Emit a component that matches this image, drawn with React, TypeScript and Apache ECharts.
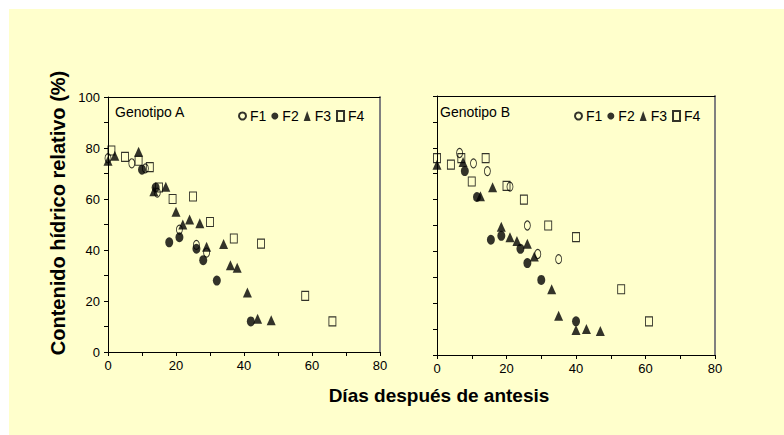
import React, { useEffect, useRef } from "react";
import * as echarts from "echarts";

// Relative water content (%) vs. days after anthesis, two genotypes, four treatments
const seriesNames = ["F1", "F2", "F3", "F4"];
const panelTitles = ["Genotipo A", "Genotipo B"];
const xTitle = "Días después de antesis";
const yTitle = "Contenido hídrico relativo (%)";

// Genotipo A
const aF1 = [[0, 76], [7, 74], [11, 72], [14.5, 62.5], [21, 48], [26, 42], [29, 39]];
const aF2 = [[10, 71.5], [14, 64.5], [18, 43], [21, 45], [26, 40.5], [28, 36], [32, 28], [42, 12]];
const aF3 = [
  [0, 75], [2, 77], [9, 78.5], [13.5, 63], [17, 64.8], [20, 55], [22, 50], [24, 52],
  [27, 50.5], [29, 41.3], [34, 42.4], [36, 34], [38, 33], [41, 23.3], [44, 13], [48, 12.5],
];
const aF4 = [
  [1, 79], [5, 76.5], [9, 75], [12.3, 72.5], [15, 64.5], [19, 60], [25, 61], [30, 51],
  [37, 44.5], [45, 42.5], [58, 22], [66, 12],
];

// Genotipo B
const bF1 = [[6.5, 78], [10.5, 74], [14.5, 71], [21, 65], [26, 50], [29, 39], [35, 37]];
const bF2 = [[8, 71], [11.5, 61], [15.5, 44.5], [18.5, 46], [24, 41], [26, 35.5], [30, 29], [40, 13]];
const bF3 = [
  [0, 73.5], [7.5, 74.5], [12.5, 61.3], [16, 64.8], [18.5, 49.5], [21, 45.5], [23, 44], [26, 43],
  [28, 38], [33, 25.4], [35, 15.2], [40, 9.7], [43, 10], [47, 9.3],
];
const bF4 = [
  [0, 76], [4, 73.5], [7, 76], [10, 67], [14, 76], [20, 65.3], [25, 60], [32, 50],
  [40, 45.5], [53, 25.4], [61, 13],
];

const xRange = { min: 0, max: 80, step: 10, labelStep: 20 };
const yRange = { min: 0, max: 100, step: 10, labelStep: 20 };

const FONT = '"Liberation Sans", Arial, Helvetica, sans-serif';
const BG = "#FFFFCC";

// marker look per treatment
const markerStyles: Record<string, any> = {
  F1: { symbol: "circle", size: [6, 9], itemStyle: { color: "rgba(0,0,0,0)", borderColor: "#000", borderWidth: 1 } },
  F2: { symbol: "circle", size: [8, 10], itemStyle: { color: "#000", borderColor: "#000", borderWidth: 0 } },
  F3: { symbol: "triangle", size: [9, 10], itemStyle: { color: "#000", borderColor: "#000", borderWidth: 0 } },
  F4: { symbol: "rect", size: [7, 9], itemStyle: { color: "rgba(0,0,0,0)", borderColor: "#000", borderWidth: 1 } },
};

function mainX(gridIndex: number, labelMargin: number) {
  return {
    type: "value",
    gridIndex,
    min: xRange.min,
    max: xRange.max,
    interval: xRange.step,
    axisLine: { show: true, onZero: false, lineStyle: { color: "#000", width: 1 } },
    axisTick: { show: true, inside: false, length: 4, lineStyle: { color: "#000" } },
    axisLabel: {
      show: true,
      margin: labelMargin,
      color: "#000",
      fontSize: 13,
      fontFamily: FONT,
      formatter: (v: number) => (v % xRange.labelStep === 0 ? String(v) : ""),
    },
    splitLine: { show: false },
  };
}

function frameX(gridIndex: number) {
  return {
    type: "value",
    gridIndex,
    position: "top",
    min: xRange.min,
    max: xRange.max,
    axisLine: { show: true, onZero: false, lineStyle: { color: "#000", width: 1 } },
    axisTick: { show: false },
    axisLabel: { show: false },
    splitLine: { show: false },
  };
}

function mainY(gridIndex: number, showLabels: boolean) {
  return {
    type: "value",
    gridIndex,
    min: yRange.min,
    max: yRange.max,
    interval: yRange.step,
    axisLine: { show: true, onZero: false, lineStyle: { color: "#000", width: 1 } },
    axisTick: { show: true, inside: false, length: 4, lineStyle: { color: "#000" } },
    axisLabel: {
      show: showLabels,
      margin: 8,
      color: "#000",
      fontSize: 13,
      fontFamily: FONT,
      formatter: (v: number) => (v % yRange.labelStep === 0 ? String(v) : ""),
    },
    splitLine: { show: false },
  };
}

function frameY(gridIndex: number) {
  return {
    type: "value",
    gridIndex,
    position: "right",
    min: yRange.min,
    max: yRange.max,
    axisLine: { show: true, onZero: false, lineStyle: { color: "#808080", width: 2 } },
    axisTick: { show: false },
    axisLabel: { show: false },
    splitLine: { show: false },
  };
}

function scatterSeries(name: string, data: number[][], axisIndex: number) {
  const m = markerStyles[name];
  return {
    type: "scatter",
    name,
    xAxisIndex: axisIndex,
    yAxisIndex: axisIndex,
    data,
    symbol: m.symbol,
    symbolSize: m.size,
    itemStyle: m.itemStyle,
    emphasis: { disabled: true },
  };
}

function legendFor(left: number, top: number) {
  return {
    left,
    top,
    orient: "horizontal",
    itemWidth: 7,
    itemHeight: 10,
    itemGap: 5,
    padding: 0,
    selectedMode: false,
    textStyle: { color: "#000", fontSize: 14, fontFamily: FONT, padding: [0, 0, 0, -1] },
    data: seriesNames.map((n) => ({ name: n, icon: markerStyles[n].symbol })),
  };
}

export default function App() {
  const ref = useRef<HTMLDivElement>(null);

  useEffect(() => {
    if (!ref.current) return;
    const chart = echarts.init(ref.current, undefined, { renderer: "svg" });

    const option = {
      animation: false,
      backgroundColor: "transparent",
      grid: [
        { left: 99, top: 88, width: 272, height: 255, containLabel: false },
        { left: 428, top: 87, width: 278, height: 259, containLabel: false },
      ],
      xAxis: [mainX(0, 7), frameX(0), mainX(1, 7), frameX(1)],
      yAxis: [mainY(0, true), frameY(0), mainY(1, false), frameY(1)],
      legend: [legendFor(229, 100), legendFor(565, 100)],
      series: [
        scatterSeries("F4", aF4, 0),
        scatterSeries("F1", aF1, 0),
        scatterSeries("F3", aF3, 0),
        scatterSeries("F2", aF2, 0),
        scatterSeries("F4", bF4, 2),
        scatterSeries("F1", bF1, 2),
        scatterSeries("F3", bF3, 2),
        scatterSeries("F2", bF2, 2),
      ],
      graphic: [
        {
          type: "text",
          x: 106,
          y: 103,
          style: { text: panelTitles[0], fill: "#000", fontSize: 14, fontFamily: FONT, align: "left", verticalAlign: "middle" },
        },
        {
          type: "text",
          x: 431,
          y: 103,
          style: { text: panelTitles[1], fill: "#000", fontSize: 14, fontFamily: FONT, align: "left", verticalAlign: "middle" },
        },
        {
          type: "text",
          x: 48.5,
          y: 204,
          rotation: Math.PI / 2,
          style: { text: yTitle, fill: "#000", fontSize: 20, fontWeight: "bold", fontFamily: FONT, align: "center", verticalAlign: "middle" },
        },
        {
          type: "text",
          x: 430,
          y: 386,
          style: { text: xTitle, fill: "#000", fontSize: 19, fontWeight: "bold", fontFamily: FONT, align: "center", verticalAlign: "middle" },
        },
      ],
    };

    chart.setOption(option as any);
    return () => chart.dispose();
  }, []);

  return (
    <div style={{ position: "fixed", left: 0, top: 0, width: 784, height: 435, background: "#fff", overflow: "hidden" }}>
      <div
        ref={ref}
        style={{ position: "absolute", left: 9, top: 9, width: 775, height: 426, background: BG }}
      />
    </div>
  );
}
